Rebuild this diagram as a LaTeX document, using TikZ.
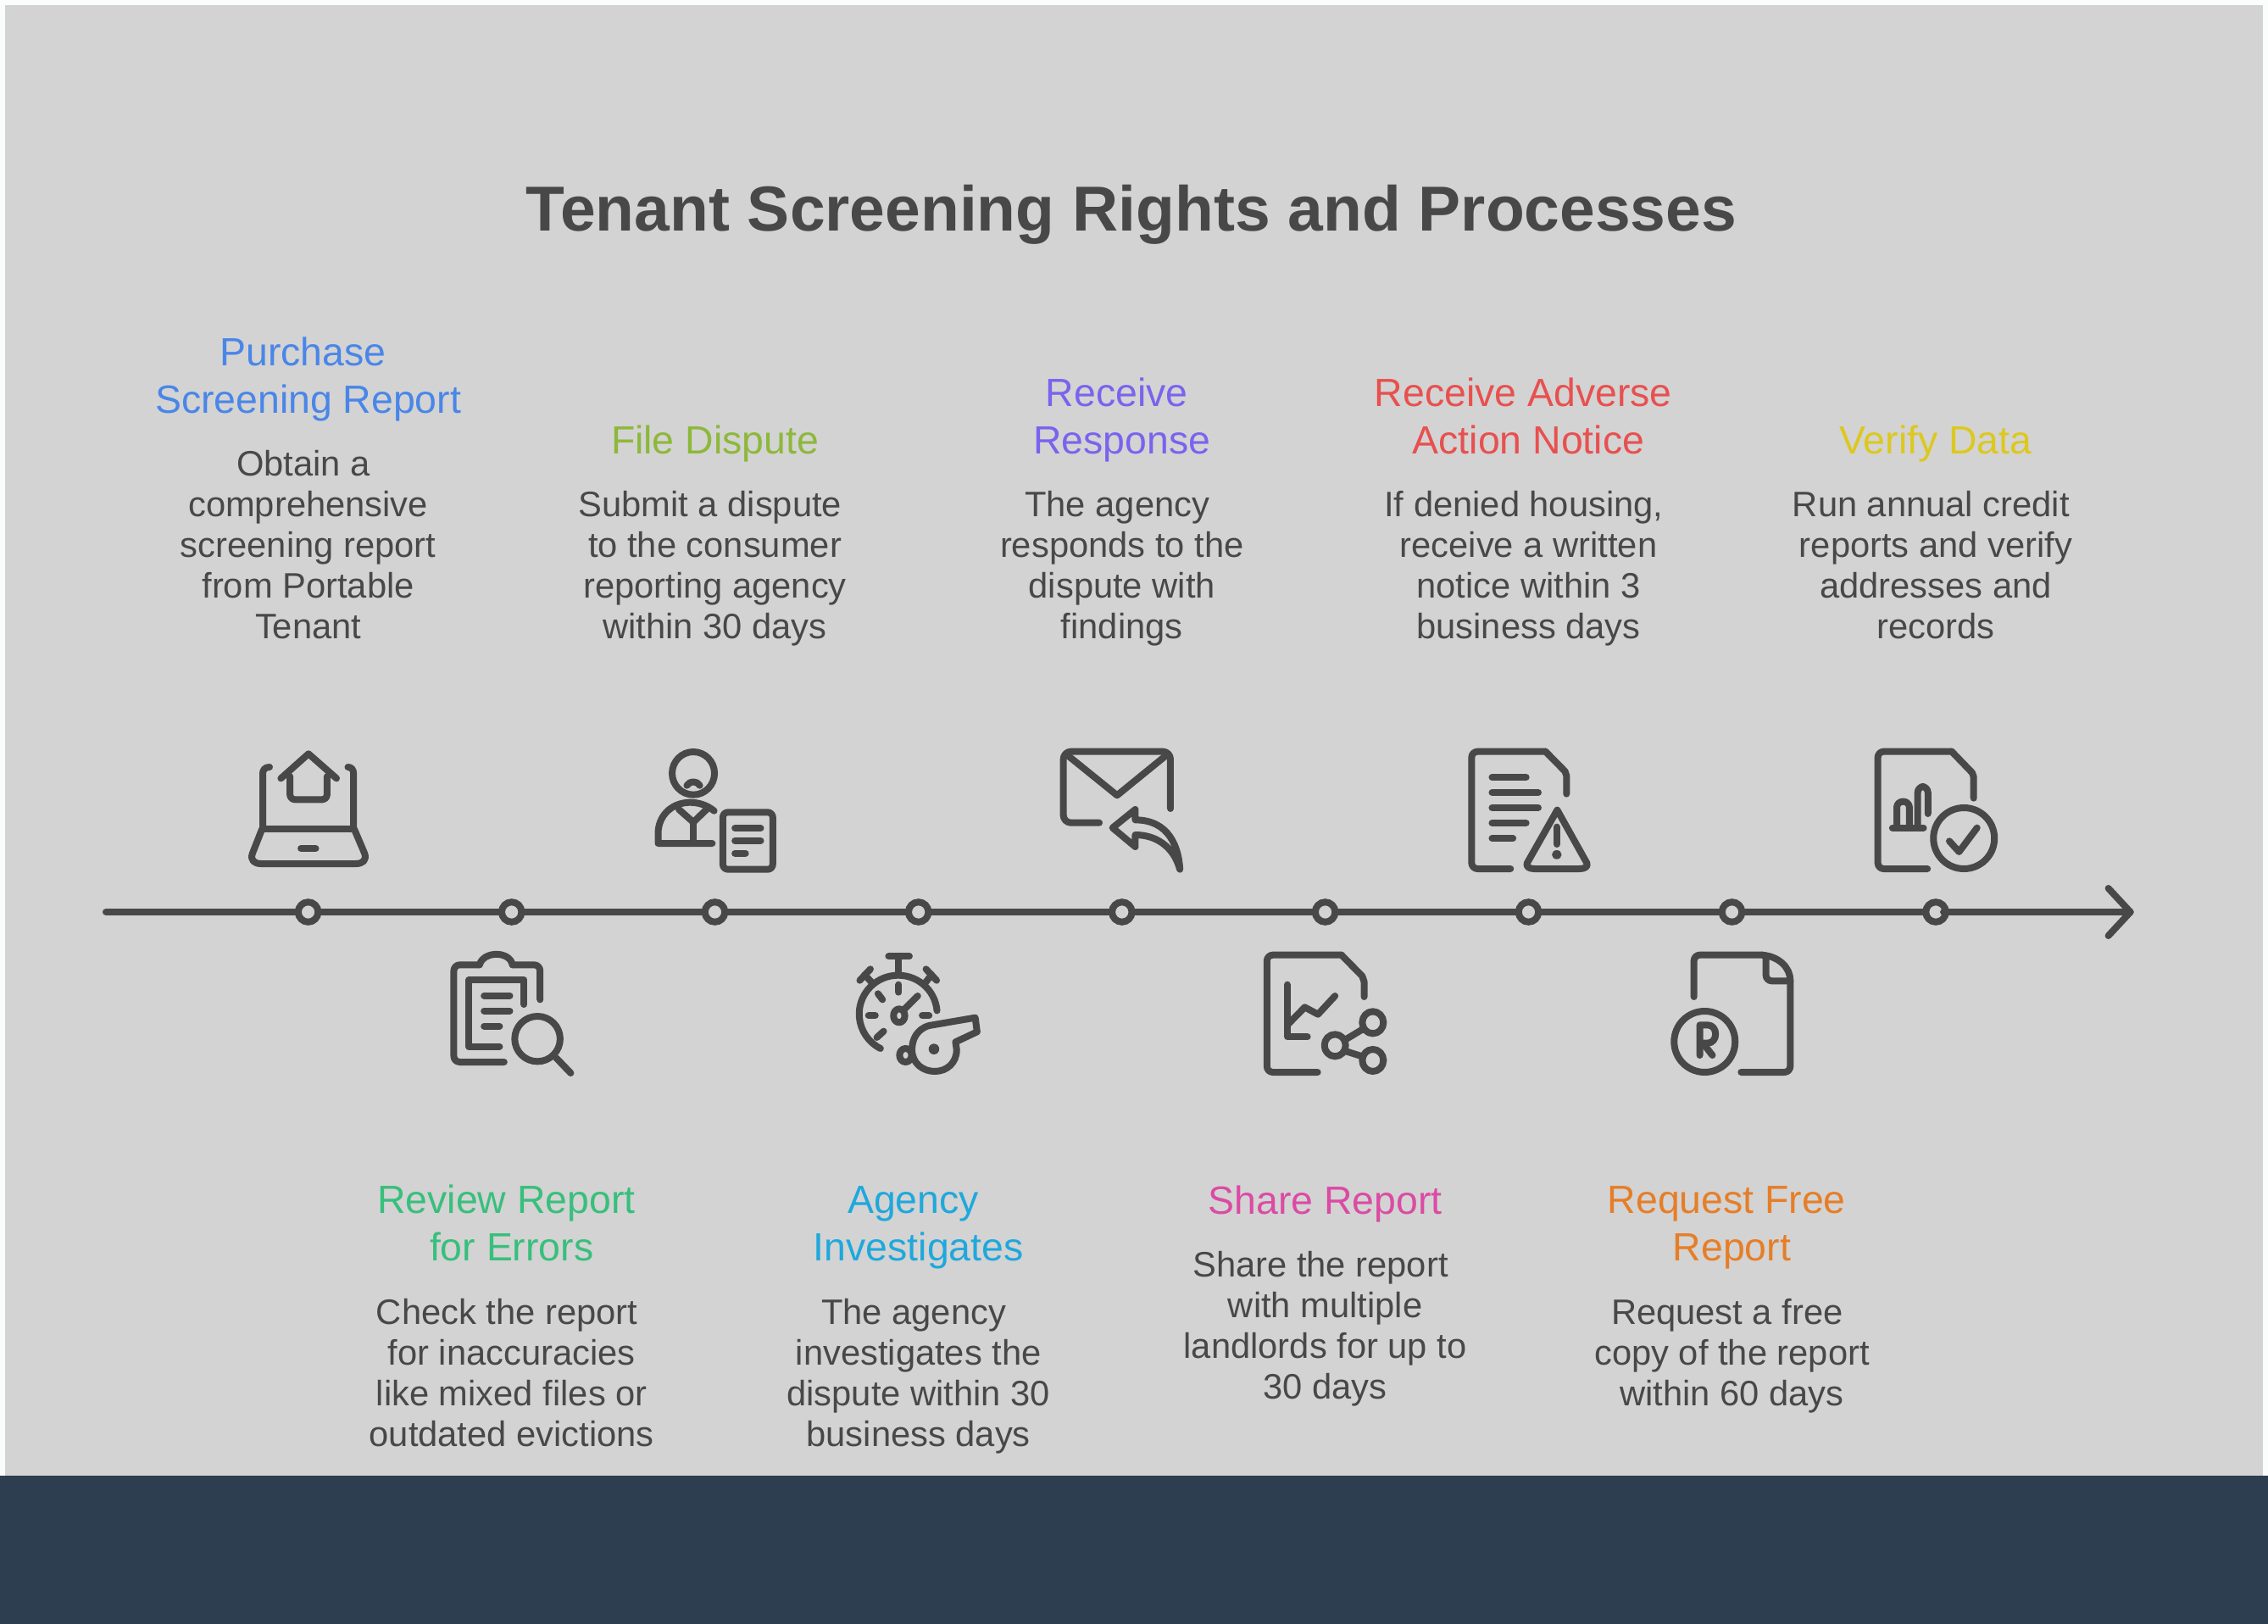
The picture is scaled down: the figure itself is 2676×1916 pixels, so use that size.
\documentclass[tikz,border=0pt]{standalone}
\usepackage{fontspec}
\setmainfont{Liberation Sans}
\definecolor{bgc}{HTML}{D3D3D3}
\definecolor{ink}{HTML}{484848}
\definecolor{barc}{HTML}{2C3E50}
\definecolor{edgec}{HTML}{FBFDFC}
\definecolor{cblue}{HTML}{4A86E8}
\definecolor{cgreen}{HTML}{8DB83A}
\definecolor{cviolet}{HTML}{7A63EE}
\definecolor{cred}{HTML}{E8504F}
\definecolor{cyellow}{HTML}{DCC81E}
\definecolor{cteal}{HTML}{38BF7C}
\definecolor{csky}{HTML}{1FA8DC}
\definecolor{cpink}{HTML}{DB4BA4}
\definecolor{corange}{HTML}{E67E28}
\newcommand{\nl}{\hspace*{.27em}\\}
\tikzset{
  headtext/.style={font=\fontsize{46.4}{55.5}\selectfont, align=center, anchor=base, inner sep=0pt},
  bodytext/.style={font=\fontsize{41.7}{48}\selectfont, text=ink, align=center, anchor=base, inner sep=0pt},
  titletext/.style={font=\fontsize{75}{90}\selectfont\bfseries, text=ink, anchor=base, inner sep=0pt},
  dot/.style={circle, draw=ink, fill=bgc, line width=8pt, minimum size=23.5pt, inner sep=0pt, outer sep=0pt},
  ic/.style={draw=ink, line width=8pt, line cap=round, line join=round},
  za/.style={shift={(260,860)}, x=0.44643pt, y=-0.33333pt},
  zb/.style={shift={(960,860)}, x=0.44643pt, y=-0.33333pt},
  zc/.style={shift={(1660,860)}, x=0.57398pt, y=-0.33333pt},
}
\begin{document}
\begin{tikzpicture}[x=1pt,y=-1pt]
\useasboundingbox (0,0) rectangle (2676,1916);
\fill[edgec] (0,0) rectangle (2676,1916);
\fill[bgc] (6,6) rectangle (2670,1741);
\fill[barc] (0,1741) rectangle (2676,1916);

\node[titletext] (title) at (1335,272) {Tenant Screening Rights and Processes};

% top blocks
\node[headtext,text=cblue] (h1) at (363.6,487) {Purchase\nl Screening Report};
\node[bodytext] (b1) at (363.6,753) {Obtain a\nl comprehensive\nl screening report\nl from Portable\nl Tenant};
\node[headtext,text=cgreen] (h3) at (843.5,535) {File Dispute};
\node[bodytext] (b3) at (843.5,753) {Submit a dispute\nl to the consumer\nl reporting agency\nl within 30 days};
\node[headtext,text=cviolet] (h5) at (1323.8,535) {Receive\nl Response};
\node[bodytext] (b5) at (1323.8,753) {The agency\nl responds to the\nl dispute with\nl findings};
\node[headtext,text=cred] (h7) at (1803.5,535) {Receive Adverse\nl Action Notice};
\node[bodytext] (b7) at (1803.5,753) {If denied housing,\nl receive a written\nl notice within 3\nl business days};
\node[headtext,text=cyellow] (h9) at (2284,535) {Verify Data};
\node[bodytext] (b9) at (2284,753) {Run annual credit\nl reports and verify\nl addresses and\nl records};
% bottom blocks
\node[headtext,text=cteal] (h2) at (603.7,1487) {Review Report\nl for Errors};
\node[bodytext] (b2) at (603.7,1706) {Check the report\nl for inaccuracies\nl like mixed files or\nl outdated evictions};
\node[headtext,text=csky] (h4) at (1083.7,1487) {Agency\nl Investigates};
\node[bodytext] (b4) at (1083.7,1706) {The agency\nl investigates the\nl dispute within 30\nl business days};
\node[headtext,text=cpink] (h6) at (1563.6,1432) {Share Report};
\node[bodytext] (b6) at (1563.6,1650) {Share the report\nl with multiple\nl landlords for up to\nl 30 days};
\node[headtext,text=corange] (h8) at (2043.5,1487) {Request Free\nl Report};
\node[bodytext] (b8) at (2043.5,1658) {Request a free\nl copy of the report\nl within 60 days};

% timeline
\coordinate (tlstart) at (125,1076);
\coordinate (tltip) at (2513.6,1076);
\coordinate (tlup) at (2487.6,1048);
\coordinate (tldown) at (2487.6,1104);
\draw[ic] (tlstart) -- (tltip);
\draw[ic] (tlup) -- (tltip) -- (tldown);
\foreach \n/\px in {1/363.6,2/603.7,3/843.5,4/1083.7,5/1323.8,6/1563.6,7/1803.5,8/2043.5,9/2284}
  \node[dot] (d\n) at (\px,1076) {};
\fill[ink] (2292.5,1076) circle (3.5);

% icon 1: laptop with house
\begin{scope}[za]
\draw[ic] (130,135) .. controls (118,135) and (112,145) .. (112,158) -- (112,355);
\draw[ic] (337,135) .. controls (347,135) and (352,145) .. (352,158) -- (352,355);
\draw[ic] (112,355) -- (352,355);
\draw[ic] (110,355) -- (85,440) .. controls (78,465) and (90,477) .. (108,477) -- (358,477) .. controls (376,477) and (388,465) .. (381,440) -- (354,355);
\draw[ic] (213,423) -- (252,423);
\draw[ic] (160,175) -- (233,88) -- (307,175);
\draw[ic,rounded corners=6pt] (184,168) -- (184,250) -- (282,250) -- (282,168);
\end{scope}

% icon 2: person with document
\begin{scope}[za]
\draw[ic] (1250,157) circle[x radius=56, y radius=76];
\draw[ic] (1233,200) .. controls (1240,183) and (1260,183) .. (1267,200);
\draw[ic] (1305,290) .. controls (1285,268) and (1262,260) .. (1240,260) .. controls (1190,262) and (1157,310) .. (1157,370) -- (1157,405) -- (1300,405);
\draw[ic] (1212,285) -- (1250,330) -- (1285,285);
\draw[ic] (1250,330) -- (1250,400);
\draw[ic,rounded corners=6pt] (1328,295) rectangle (1460,497);
\draw[ic] (1360,351) -- (1428,351);
\draw[ic] (1360,396) -- (1428,396);
\draw[ic] (1360,440) -- (1388,440);
\end{scope}

% icon 3: clipboard with magnifier
\begin{scope}[za]
\draw[ic,rounded corners=7pt] (750,1179) -- (617,1179) -- (617,835) -- (685,835);
\draw[ic] (685,835) .. controls (695,785) and (765,785) .. (772,835);
\draw[ic,rounded corners=7pt] (772,835) -- (845,835) -- (845,958);
\draw[ic] (738,1124) -- (657,1124) -- (657,888) -- (803,888) -- (803,975);
\draw[ic] (697,944) -- (765,944);
\draw[ic] (697,998) -- (765,998);
\draw[ic] (697,1052) -- (738,1052);
\draw[ic] (838,1097) circle[x radius=60, y radius=80];
\draw[ic] (888,1165) -- (926,1218);
\end{scope}

% icon 4: envelope with reply arrow
\begin{scope}[zb]
\draw[ic,rounded corners=9pt] (755,332) -- (660,332) -- (660,80) -- (943,80) -- (943,282);
\draw[ic] (668,90) -- (802,235) -- (935,90);
\draw[ic] (850,285) -- (790,350) -- (850,417) -- (850,375) .. controls (900,375) and (950,410) .. (968,497) .. controls (965,420) and (940,322) .. (850,322) -- cycle;
\end{scope}

% icon 5: stopwatch with whistle
\begin{scope}[zb]
\draw[ic] (326,997) arc[start angle=-5, end angle=-243, x radius=103, y radius=137];
\draw[ic] (225,805) -- (225,870);
\draw[ic] (198,805) -- (253,805);
\draw[ic] (150,850) -- (122,890);
\draw[ic] (135,870) -- (152,895);
\draw[ic] (297,850) -- (325,890);
\draw[ic] (312,870) -- (297,895);
\draw[ic] (225,905) -- (225,932);
\draw[ic] (170,937) -- (182,958);
\draw[ic] (145,1014) -- (163,1014);
\draw[ic] (287,1014) -- (305,1014);
\draw[ic] (185,1070) -- (167,1092);
\draw[ic] (226,1015) circle[x radius=15, y radius=24];
\draw[ic] (240,992) -- (275,945);
\draw[ic] (427,1022) -- (305,1050) .. controls (272,1063) and (260,1100) .. (260,1135) .. controls (260,1185) and (290,1212) .. (320,1212) .. controls (352,1212) and (378,1182) .. (378,1135) -- (375,1108) -- (432,1072) -- cycle;
\fill[ink] (318,1133) circle[x radius=14, y radius=19];
\draw[ic] (243,1155) circle[x radius=16, y radius=24];
\end{scope}

% icon 6: document with chart and share
\begin{scope}[zb]
\draw[ic,rounded corners=7pt] (1332,1215) -- (1198,1215) -- (1198,800) -- (1395,800);
\draw[ic] (1395,800) -- (1450,875) -- (1455,895) -- (1455,948);
\draw[ic] (1252,905) -- (1252,1090) -- (1305,1090);
\draw[ic] (1254,1045) -- (1298,985) -- (1333,1010) -- (1378,945);
\draw[ic] (1478,1039) circle[x radius=28, y radius=39];
\draw[ic] (1378,1120) circle[x radius=28, y radius=39];
\draw[ic] (1478,1173) circle[x radius=28, y radius=39];
\draw[ic] (1405,1100) -- (1452,1062);
\draw[ic] (1405,1140) -- (1452,1160);
\end{scope}

% icon 7: document with warning
\begin{scope}[zc]
\draw[ic,rounded corners=7pt] (213,495) -- (133,495) -- (133,80) -- (285,80);
\draw[ic] (285,80) -- (325,150) -- (328,165) -- (328,230);
\draw[ic] (175,171) -- (245,171);
\draw[ic] (175,225) -- (270,225);
\draw[ic] (175,279) -- (270,279);
\draw[ic] (175,333) -- (245,333);
\draw[ic] (175,387) -- (218,387);
\draw[ic] (309,287) -- (370,475) .. controls (373,488) and (365,495) .. (355,495) -- (262,495) .. controls (252,495) and (244,488) .. (247,475) -- cycle;
\draw[ic] (308,347) -- (308,408);
\fill[ink] (308,445) circle[x radius=10, y radius=16];
\end{scope}

% icon 8: document with chart and check
\begin{scope}[zc]
\draw[ic,rounded corners=7pt] (1070,495) -- (968,495) -- (968,80) -- (1120,80);
\draw[ic] (1120,80) -- (1162,155) -- (1165,170) -- (1165,245);
\draw[ic,rounded corners=7pt] (1007,345) -- (1007,257) -- (1033,257) -- (1033,345);
\draw[ic,rounded corners=7pt] (1050,345) -- (1050,204) -- (1071,204) -- (1071,300);
\draw[ic] (998,350) -- (1062,350);
\draw[ic] (1145,387) circle[x radius=62.7, y radius=108];
\draw[ic] (1115,397) -- (1135,435) -- (1172,350);
\end{scope}

% icon 9: document with R mark
\begin{scope}[zc]
\draw[ic,rounded corners=7pt] (590,948) -- (590,800) -- (730,800);
\draw[ic] (730,800) .. controls (765,805) and (788,845) .. (788,890);
\draw[ic,rounded corners=7pt] (788,890) -- (788,1215) -- (687,1215);
\draw[ic,rounded corners=7pt] (738,805) -- (738,892) -- (788,892);
\draw[ic] (612,1107) circle[x radius=62.7, y radius=108];
\draw[ic] (602,1155) -- (602,1048) -- (618,1048) .. controls (640,1048) and (640,1112) .. (618,1112) -- (602,1112);
\draw[ic] (612,1120) -- (628,1155);
\end{scope}
\end{tikzpicture}
\end{document}
